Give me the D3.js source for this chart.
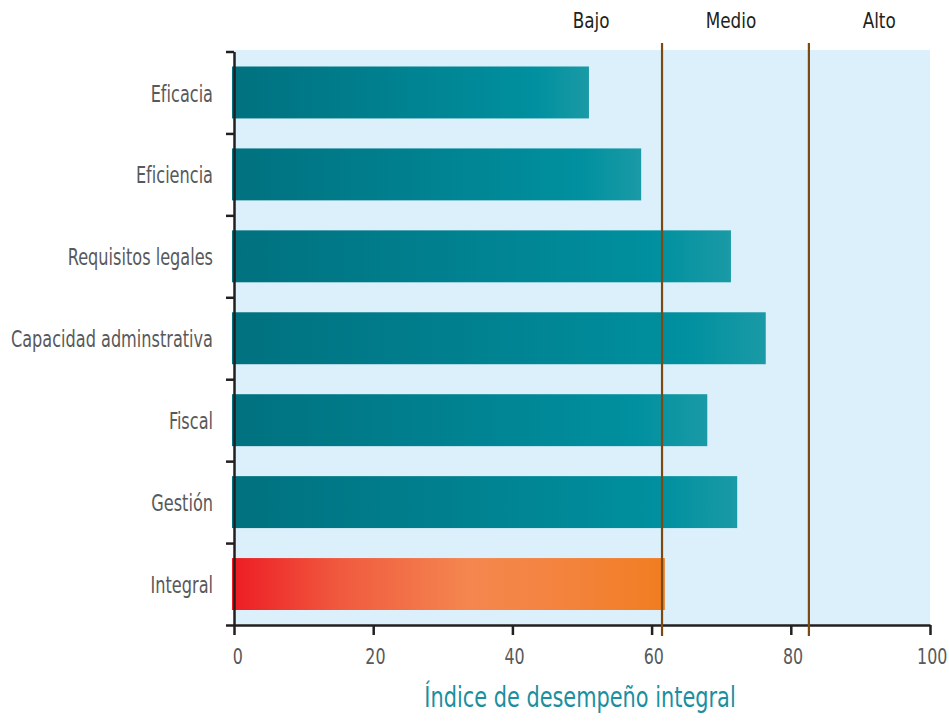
<!DOCTYPE html>
<html lang="es">
<head>
<meta charset="utf-8">
<script src="https://cdn.jsdelivr.net/npm/d3@7"></script>
<style>
  html, body { margin: 0; padding: 0; background: #ffffff; }
  svg { display: block; }
  text { font-family: "DejaVu Sans Condensed", "Liberation Sans", sans-serif; }
</style>
</head>
<body>
<svg id="chart" width="949" height="721"></svg>
<script>
// Dimensiones evaluadas y su índice (0–100)
const categories = ["Eficacia", "Eficiencia", "Requisitos legales", "Capacidad adminstrativa", "Fiscal", "Gestión", "Integral"];
const values = [51.0, 58.5, 71.4, 76.4, 68.0, 72.3, 61.9];
const xTicks = [0, 20, 40, 60, 80, 100];
// Umbrales entre rangos de desempeño
const thresholds = [61.5, 82.6];
const rangeLabels = ["Bajo", "Medio", "Alto"];
const rangeLabelPos = [51.3, 71.4, 92.7];
const axisTitle = "Índice de desempeño integral";

// Compresión horizontal del texto para una tipografía estrecha
const NARROW = 0.84;

const svg = d3.select("#chart");
const plot = { left: 234, right: 930, top: 51.5, bottom: 625 };

const x = d3.scaleLinear().domain([0, 100]).range([plot.left, plot.right]);
const y = d3.scaleBand().domain(categories).range([plot.top, plot.bottom])
  .paddingInner(0.366).paddingOuter(0.183);
const yEdges = d3.scaleLinear().domain([0, categories.length]).range([plot.top, plot.bottom]);

const defs = svg.append("defs");
const teal = defs.append("linearGradient").attr("id", "gTeal")
  .attr("x1", "0%").attr("x2", "100%").attr("y1", "0%").attr("y2", "0%");
[["0%", "#00717f"], ["45%", "#008190"], ["85%", "#00909f"], ["100%", "#1a9aa6"]]
  .forEach(([o, c]) => teal.append("stop").attr("offset", o).attr("stop-color", c));
const warm = defs.append("linearGradient").attr("id", "gWarm")
  .attr("x1", "0%").attr("x2", "100%").attr("y1", "0%").attr("y2", "0%");
[["0%", "#ed1c24"], ["25%", "#f05a3f"], ["55%", "#f4874f"], ["80%", "#f3823a"], ["100%", "#f17d20"]]
  .forEach(([o, c]) => warm.append("stop").attr("offset", o).attr("stop-color", c));

// Fondo del área de gráfico
svg.append("rect")
  .attr("x", x(0)).attr("y", 50)
  .attr("width", x(100) - x(0)).attr("height", plot.bottom - 50)
  .attr("fill", "#dbf0fb");

// Barras
svg.append("g").selectAll("rect").data(categories).join("rect")
  .attr("x", x(0) - 2)
  .attr("y", d => y(d))
  .attr("width", (d, i) => x(values[i]) - x(0) + 2)
  .attr("height", y.bandwidth())
  .attr("fill", d => d === "Integral" ? "url(#gWarm)" : "url(#gTeal)");

// Etiquetas de categorías
svg.append("g").selectAll("text").data(categories).join("text")
  .attr("transform", d => `translate(${plot.left - 21},${y(d) + y.bandwidth() / 2 + 1}) scale(0.78,1)`)
  .attr("dy", "0.35em")
  .attr("text-anchor", "end")
  .attr("font-size", 23)
  .attr("fill", "#58595b")
  .text(d => d);

// Eje vertical con marcas en los límites de cada franja
const yAxis = svg.append("g")
  .attr("transform", `translate(${plot.left},0)`)
  .call(d3.axisLeft(yEdges).tickValues(d3.range(categories.length + 1)).tickSize(8).tickSizeOuter(0).tickFormat(""));
yAxis.select(".domain").attr("stroke", "#231f20").attr("stroke-width", 2.5);
yAxis.selectAll(".tick line").attr("stroke", "#231f20").attr("stroke-width", 2.5);

// Eje horizontal
const xAxis = svg.append("g")
  .attr("transform", `translate(0,${plot.bottom})`)
  .call(d3.axisBottom(x).tickValues(xTicks).tickSize(10).tickSizeOuter(0).tickPadding(14));
xAxis.select(".domain").attr("stroke", "#231f20").attr("stroke-width", 2.5);
xAxis.selectAll(".tick line").attr("stroke", "#231f20").attr("stroke-width", 2.5);
xAxis.selectAll(".tick text")
  .attr("font-size", 21)
  .attr("fill", "#58595b")
  .attr("font-family", "\"DejaVu Sans Condensed\", sans-serif")
  .attr("x", d => d === 0 ? 4 : 2)
  .attr("transform", `scale(${NARROW},1)`);

// Líneas de umbral
svg.append("g").selectAll("line").data(thresholds).join("line")
  .attr("x1", d => x(d)).attr("x2", d => x(d))
  .attr("y1", 43).attr("y2", 636)
  .attr("stroke", "#7b4a12").attr("stroke-width", 2.2);

// Nombres de los rangos
svg.append("g").selectAll("text").data(rangeLabels).join("text")
  .attr("transform", (d, i) => `translate(${x(rangeLabelPos[i])},28) scale(0.85,1)`)
  .attr("text-anchor", "middle")
  .attr("font-size", 22)
  .attr("fill", "#231f20")
  .text(d => d);

// Título del eje
svg.append("text")
  .attr("transform", `translate(580,707) scale(0.8,1)`)
  .attr("text-anchor", "middle")
  .attr("font-size", 29)
  .attr("fill", "#1a8fa0")
  .text(axisTitle);
</script>
</body>
</html>
